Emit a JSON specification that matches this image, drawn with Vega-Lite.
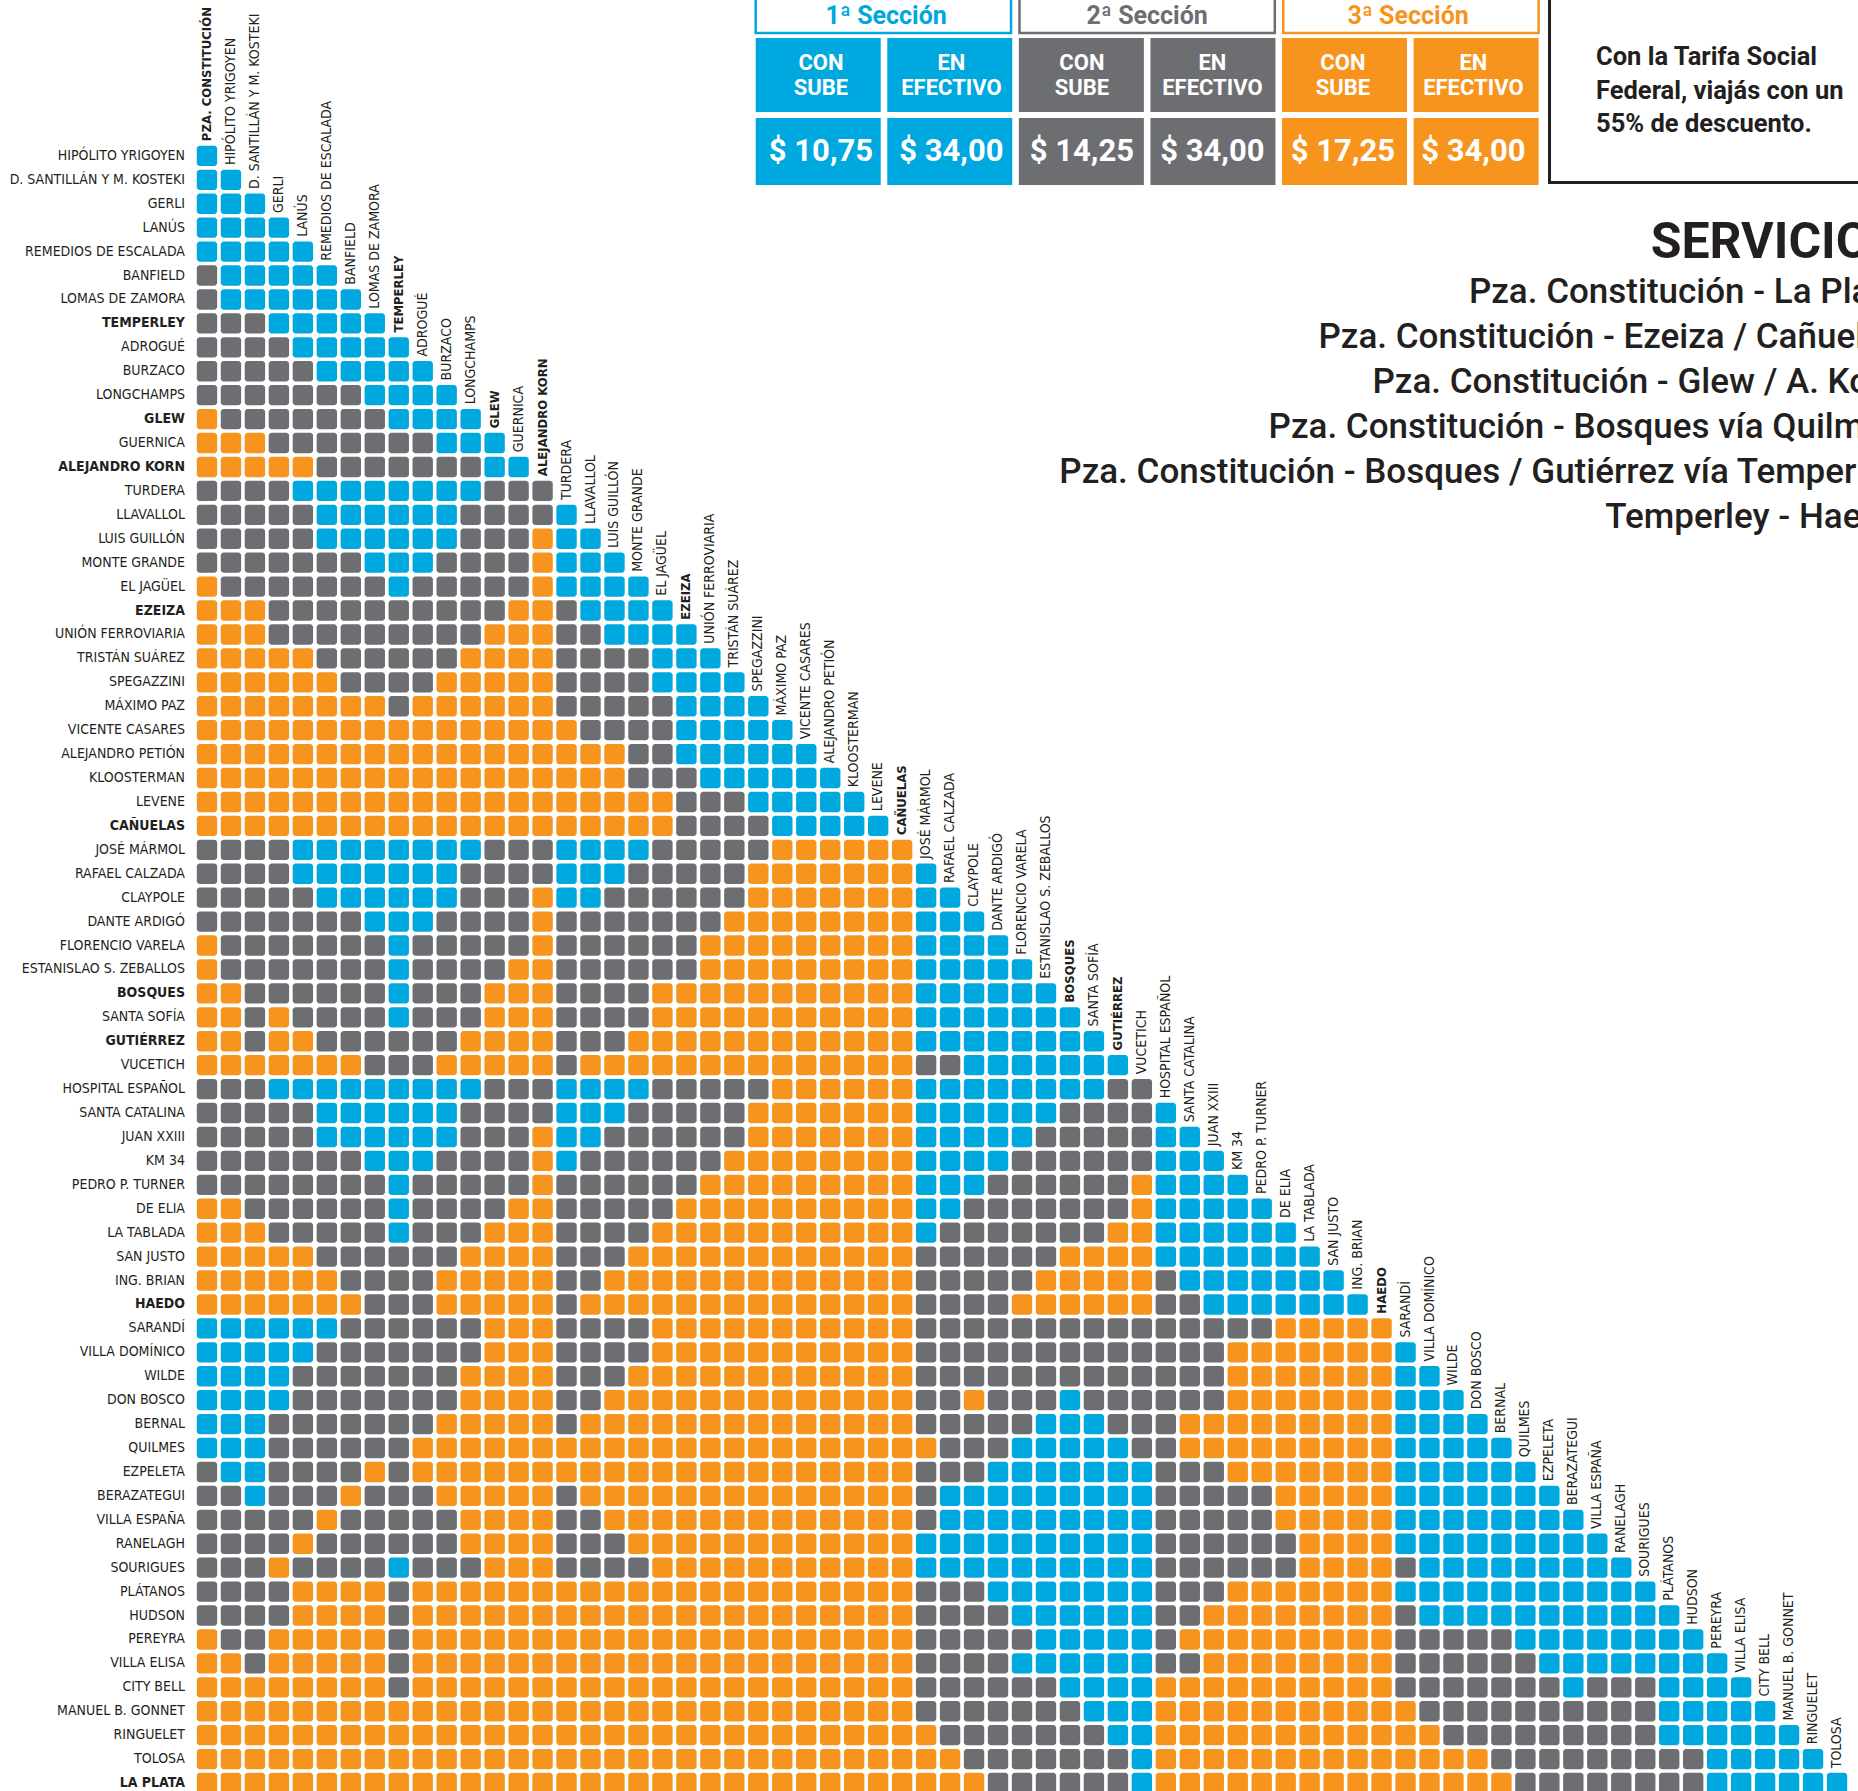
{
"$schema":"https://vega.github.io/schema/vega-lite/v6.json",
"width":1654,"height":1671,
"autosize":{"type":"none"},
"padding":{"left":195,"top":120,"right":9,"bottom":0},
"background":"#ffffff",
"config":{"view":{"stroke":null}},
"datasets":{
"stations":[{"i":0,"n":"PZA. CONSTITUCIÓN","b":1},{"i":1,"n":"HIPÓLITO YRIGOYEN","b":0},{"i":2,"n":"D. SANTILLÁN Y M. KOSTEKI","b":0},{"i":3,"n":"GERLI","b":0},{"i":4,"n":"LANÚS","b":0},{"i":5,"n":"REMEDIOS DE ESCALADA","b":0},{"i":6,"n":"BANFIELD","b":0},{"i":7,"n":"LOMAS DE ZAMORA","b":0},{"i":8,"n":"TEMPERLEY","b":1},{"i":9,"n":"ADROGUÉ","b":0},{"i":10,"n":"BURZACO","b":0},{"i":11,"n":"LONGCHAMPS","b":0},{"i":12,"n":"GLEW","b":1},{"i":13,"n":"GUERNICA","b":0},{"i":14,"n":"ALEJANDRO KORN","b":1},{"i":15,"n":"TURDERA","b":0},{"i":16,"n":"LLAVALLOL","b":0},{"i":17,"n":"LUIS GUILLÓN","b":0},{"i":18,"n":"MONTE GRANDE","b":0},{"i":19,"n":"EL JAGÜEL","b":0},{"i":20,"n":"EZEIZA","b":1},{"i":21,"n":"UNIÓN FERROVIARIA","b":0},{"i":22,"n":"TRISTÁN SUÁREZ","b":0},{"i":23,"n":"SPEGAZZINI","b":0},{"i":24,"n":"MÁXIMO PAZ","b":0},{"i":25,"n":"VICENTE CASARES","b":0},{"i":26,"n":"ALEJANDRO PETIÓN","b":0},{"i":27,"n":"KLOOSTERMAN","b":0},{"i":28,"n":"LEVENE","b":0},{"i":29,"n":"CAÑUELAS","b":1},{"i":30,"n":"JOSÉ MÁRMOL","b":0},{"i":31,"n":"RAFAEL CALZADA","b":0},{"i":32,"n":"CLAYPOLE","b":0},{"i":33,"n":"DANTE ARDIGÓ","b":0},{"i":34,"n":"FLORENCIO VARELA","b":0},{"i":35,"n":"ESTANISLAO S. ZEBALLOS","b":0},{"i":36,"n":"BOSQUES","b":1},{"i":37,"n":"SANTA SOFÍA","b":0},{"i":38,"n":"GUTIÉRREZ","b":1},{"i":39,"n":"VUCETICH","b":0},{"i":40,"n":"HOSPITAL ESPAÑOL","b":0},{"i":41,"n":"SANTA CATALINA","b":0},{"i":42,"n":"JUAN XXIII","b":0},{"i":43,"n":"KM 34","b":0},{"i":44,"n":"PEDRO P. TURNER","b":0},{"i":45,"n":"DE ELIA","b":0},{"i":46,"n":"LA TABLADA","b":0},{"i":47,"n":"SAN JUSTO","b":0},{"i":48,"n":"ING. BRIAN","b":0},{"i":49,"n":"HAEDO","b":1},{"i":50,"n":"SARANDÍ","b":0},{"i":51,"n":"VILLA DOMÍNICO","b":0},{"i":52,"n":"WILDE","b":0},{"i":53,"n":"DON BOSCO","b":0},{"i":54,"n":"BERNAL","b":0},{"i":55,"n":"QUILMES","b":0},{"i":56,"n":"EZPELETA","b":0},{"i":57,"n":"BERAZATEGUI","b":0},{"i":58,"n":"VILLA ESPAÑA","b":0},{"i":59,"n":"RANELAGH","b":0},{"i":60,"n":"SOURIGUES","b":0},{"i":61,"n":"PLÁTANOS","b":0},{"i":62,"n":"HUDSON","b":0},{"i":63,"n":"PEREYRA","b":0},{"i":64,"n":"VILLA ELISA","b":0},{"i":65,"n":"CITY BELL","b":0},{"i":66,"n":"MANUEL B. GONNET","b":0},{"i":67,"n":"RINGUELET","b":0},{"i":68,"n":"TOLOSA","b":0},{"i":69,"n":"LA PLATA","b":1}],
"fares":[{"sec":"1ª Sección","k":"1a","pay":"CON\nSUBE","price":"$ 10,75"},{"sec":"1ª Sección","k":"1b","pay":"EN\nEFECTIVO","price":"$ 34,00"},{"sec":"2ª Sección","k":"2a","pay":"CON\nSUBE","price":"$ 14,25"},{"sec":"2ª Sección","k":"2b","pay":"EN\nEFECTIVO","price":"$ 34,00"},{"sec":"3ª Sección","k":"3a","pay":"CON\nSUBE","price":"$ 17,25"},{"sec":"3ª Sección","k":"3b","pay":"EN\nEFECTIVO","price":"$ 34,00"}]
},
"layer":[
{"layer":[
{"data":{"values":"r,c,s\n1,0,1\n2,0,1\n2,1,1\n3,0,1\n3,1,1\n3,2,1\n4,0,1\n4,1,1\n4,2,1\n4,3,1\n5,0,1\n5,1,1\n5,2,1\n5,3,1\n5,4,1\n6,0,2\n6,1,1\n6,2,1\n6,3,1\n6,4,1\n6,5,1\n7,0,2\n7,1,1\n7,2,1\n7,3,1\n7,4,1\n7,5,1\n7,6,1\n8,0,2\n8,1,2\n8,2,2\n8,3,1\n8,4,1\n8,5,1\n8,6,1\n8,7,1\n9,0,2\n9,1,2\n9,2,2\n9,3,2\n9,4,1\n9,5,1\n9,6,1\n9,7,1\n9,8,1\n10,0,2\n10,1,2\n10,2,2\n10,3,2\n10,4,2\n10,5,1\n10,6,1\n10,7,1\n10,8,1\n10,9,1\n11,0,2\n11,1,2\n11,2,2\n11,3,2\n11,4,2\n11,5,2\n11,6,2\n11,7,1\n11,8,1\n11,9,1\n11,10,1\n12,0,3\n12,1,2\n12,2,2\n12,3,2\n12,4,2\n12,5,2\n12,6,2\n12,7,2\n12,8,1\n12,9,1\n12,10,1\n12,11,1\n13,0,3\n13,1,3\n13,2,3\n13,3,2\n13,4,2\n13,5,2\n13,6,2\n13,7,2\n13,8,2\n13,9,2\n13,10,1\n13,11,1\n13,12,1\n14,0,3\n14,1,3\n14,2,3\n14,3,3\n14,4,3\n14,5,2\n14,6,2\n14,7,2\n14,8,2\n14,9,2\n14,10,2\n14,11,2\n14,12,1\n14,13,1\n15,0,2\n15,1,2\n15,2,2\n15,3,2\n15,4,1\n15,5,1\n15,6,1\n15,7,1\n15,8,1\n15,9,1\n15,10,1\n15,11,1\n15,12,2\n15,13,2\n15,14,2\n16,0,2\n16,1,2\n16,2,2\n16,3,2\n16,4,2\n16,5,1\n16,6,1\n16,7,1\n16,8,1\n16,9,1\n16,10,1\n16,11,2\n16,12,2\n16,13,2\n16,14,2\n16,15,1\n17,0,2\n17,1,2\n17,2,2\n17,3,2\n17,4,2\n17,5,1\n17,6,1\n17,7,1\n17,8,1\n17,9,1\n17,10,1\n17,11,2\n17,12,2\n17,13,2\n17,14,3\n17,15,1\n17,16,1\n18,0,2\n18,1,2\n18,2,2\n18,3,2\n18,4,2\n18,5,2\n18,6,2\n18,7,1\n18,8,1\n18,9,1\n18,10,2\n18,11,2\n18,12,2\n18,13,2\n18,14,3\n18,15,1\n18,16,1\n18,17,1\n19,0,3\n19,1,2\n19,2,2\n19,3,2\n19,4,2\n19,5,2\n19,6,2\n19,7,2\n19,8,1\n19,9,2\n19,10,2\n19,11,2\n19,12,2\n19,13,2\n19,14,3\n19,15,1\n19,16,1\n19,17,1\n19,18,1\n20,0,3\n20,1,3\n20,2,3\n20,3,2\n20,4,2\n20,5,2\n20,6,2\n20,7,2\n20,8,2\n20,9,2\n20,10,2\n20,11,2\n20,12,2\n20,13,3\n20,14,3\n20,15,2\n20,16,1\n20,17,1\n20,18,1\n20,19,1\n21,0,3\n21,1,3\n21,2,3\n21,3,2\n21,4,2\n21,5,2\n21,6,2\n21,7,2\n21,8,2\n21,9,2\n21,10,2\n21,11,2\n21,12,3\n21,13,3\n21,14,3\n21,15,2\n21,16,2\n21,17,1\n21,18,1\n21,19,1\n21,20,1\n22,0,3\n22,1,3\n22,2,3\n22,3,3\n22,4,3\n22,5,2\n22,6,2\n22,7,2\n22,8,2\n22,9,2\n22,10,2\n22,11,3\n22,12,3\n22,13,3\n22,14,3\n22,15,2\n22,16,2\n22,17,2\n22,18,2\n22,19,1\n22,20,1\n22,21,1\n23,0,3\n23,1,3\n23,2,3\n23,3,3\n23,4,3\n23,5,3\n23,6,2\n23,7,2\n23,8,2\n23,9,2\n23,10,3\n23,11,3\n23,12,3\n23,13,3\n23,14,3\n23,15,2\n23,16,2\n23,17,2\n23,18,2\n23,19,1\n23,20,1\n23,21,1\n23,22,1\n24,0,3\n24,1,3\n24,2,3\n24,3,3\n24,4,3\n24,5,3\n24,6,3\n24,7,3\n24,8,2\n24,9,3\n24,10,3\n24,11,3\n24,12,3\n24,13,3\n24,14,3\n24,15,2\n24,16,2\n24,17,2\n24,18,2\n24,19,2\n24,20,1\n24,21,1\n24,22,1\n24,23,1\n25,0,3\n25,1,3\n25,2,3\n25,3,3\n25,4,3\n25,5,3\n25,6,3\n25,7,3\n25,8,3\n25,9,3\n25,10,3\n25,11,3\n25,12,3\n25,13,3\n25,14,3\n25,15,3\n25,16,2\n25,17,2\n25,18,2\n25,19,2\n25,20,1\n25,21,1\n25,22,1\n25,23,1\n25,24,1\n26,0,3\n26,1,3\n26,2,3\n26,3,3\n26,4,3\n26,5,3\n26,6,3\n26,7,3\n26,8,3\n26,9,3\n26,10,3\n26,11,3\n26,12,3\n26,13,3\n26,14,3\n26,15,3\n26,16,3\n26,17,3\n26,18,2\n26,19,2\n26,20,1\n26,21,1\n26,22,1\n26,23,1\n26,24,1\n26,25,1\n27,0,3\n27,1,3\n27,2,3\n27,3,3\n27,4,3\n27,5,3\n27,6,3\n27,7,3\n27,8,3\n27,9,3\n27,10,3\n27,11,3\n27,12,3\n27,13,3\n27,14,3\n27,15,3\n27,16,3\n27,17,3\n27,18,2\n27,19,2\n27,20,2\n27,21,1\n27,22,1\n27,23,1\n27,24,1\n27,25,1\n27,26,1\n28,0,3\n28,1,3\n28,2,3\n28,3,3\n28,4,3\n28,5,3\n28,6,3\n28,7,3\n28,8,3\n28,9,3\n28,10,3\n28,11,3\n28,12,3\n28,13,3\n28,14,3\n28,15,3\n28,16,3\n28,17,3\n28,18,3\n28,19,3\n28,20,2\n28,21,2\n28,22,2\n28,23,1\n28,24,1\n28,25,1\n28,26,1\n28,27,1\n29,0,3\n29,1,3\n29,2,3\n29,3,3\n29,4,3\n29,5,3\n29,6,3\n29,7,3\n29,8,3\n29,9,3\n29,10,3\n29,11,3\n29,12,3\n29,13,3\n29,14,3\n29,15,3\n29,16,3\n29,17,3\n29,18,3\n29,19,3\n29,20,2\n29,21,2\n29,22,2\n29,23,2\n29,24,1\n29,25,1\n29,26,1\n29,27,1\n29,28,1\n30,0,2\n30,1,2\n30,2,2\n30,3,2\n30,4,1\n30,5,1\n30,6,1\n30,7,1\n30,8,1\n30,9,1\n30,10,1\n30,11,1\n30,12,2\n30,13,2\n30,14,2\n30,15,1\n30,16,1\n30,17,1\n30,18,1\n30,19,2\n30,20,2\n30,21,2\n30,22,2\n30,23,2\n30,24,3\n30,25,3\n30,26,3\n30,27,3\n30,28,3\n30,29,3\n31,0,2\n31,1,2\n31,2,2\n31,3,2\n31,4,1\n31,5,1\n31,6,1\n31,7,1\n31,8,1\n31,9,1\n31,10,1\n31,11,2\n31,12,2\n31,13,2\n31,14,2\n31,15,1\n31,16,1\n31,17,1\n31,18,2\n31,19,2\n31,20,2\n31,21,2\n31,22,2\n31,23,3\n31,24,3\n31,25,3\n31,26,3\n31,27,3\n31,28,3\n31,29,3\n31,30,1\n32,0,2\n32,1,2\n32,2,2\n32,3,2\n32,4,2\n32,5,1\n32,6,1\n32,7,1\n32,8,1\n32,9,1\n32,10,1\n32,11,2\n32,12,2\n32,13,2\n32,14,3\n32,15,1\n32,16,1\n32,17,2\n32,18,2\n32,19,2\n32,20,2\n32,21,2\n32,22,2\n32,23,3\n32,24,3\n32,25,3\n32,26,3\n32,27,3\n32,28,3\n32,29,3\n32,30,1\n32,31,1\n33,0,2\n33,1,2\n33,2,2\n33,3,2\n33,4,2\n33,5,2\n33,6,2\n33,7,1\n33,8,1\n33,9,1\n33,10,2\n33,11,2\n33,12,2\n33,13,2\n33,14,3\n33,15,2\n33,16,2\n33,17,2\n33,18,2\n33,19,2\n33,20,2\n33,21,2\n33,22,3\n33,23,3\n33,24,3\n33,25,3\n33,26,3\n33,27,3\n33,28,3\n33,29,3\n33,30,1\n33,31,1\n33,32,1\n34,0,3\n34,1,2\n34,2,2\n34,3,2\n34,4,2\n34,5,2\n34,6,2\n34,7,2\n34,8,1\n34,9,2\n34,10,2\n34,11,2\n34,12,2\n34,13,2\n34,14,3\n34,15,2\n34,16,2\n34,17,2\n34,18,2\n34,19,2\n34,20,2\n34,21,3\n34,22,3\n34,23,3\n34,24,3\n34,25,3\n34,26,3\n34,27,3\n34,28,3\n34,29,3\n34,30,1\n34,31,1\n34,32,1\n34,33,1\n35,0,3\n35,1,2\n35,2,2\n35,3,2\n35,4,2\n35,5,2\n35,6,2\n35,7,2\n35,8,1\n35,9,2\n35,10,2\n35,11,2\n35,12,2\n35,13,3\n35,14,3\n35,15,2\n35,16,2\n35,17,2\n35,18,2\n35,19,2\n35,20,2\n35,21,3\n35,22,3\n35,23,3\n35,24,3\n35,25,3\n35,26,3\n35,27,3\n35,28,3\n35,29,3\n35,30,1\n35,31,1\n35,32,1\n35,33,1\n35,34,1\n36,0,3\n36,1,3\n36,2,2\n36,3,2\n36,4,2\n36,5,2\n36,6,2\n36,7,2\n36,8,1\n36,9,2\n36,10,2\n36,11,2\n36,12,3\n36,13,3\n36,14,3\n36,15,2\n36,16,2\n36,17,2\n36,18,2\n36,19,3\n36,20,3\n36,21,3\n36,22,3\n36,23,3\n36,24,3\n36,25,3\n36,26,3\n36,27,3\n36,28,3\n36,29,3\n36,30,1\n36,31,1\n36,32,1\n36,33,1\n36,34,1\n36,35,1\n37,0,3\n37,1,3\n37,2,2\n37,3,3\n37,4,2\n37,5,2\n37,6,2\n37,7,2\n37,8,1\n37,9,2\n37,10,2\n37,11,2\n37,12,3\n37,13,3\n37,14,3\n37,15,2\n37,16,2\n37,17,2\n37,18,2\n37,19,3\n37,20,3\n37,21,3\n37,22,3\n37,23,3\n37,24,3\n37,25,3\n37,26,3\n37,27,3\n37,28,3\n37,29,3\n37,30,1\n37,31,1\n37,32,1\n37,33,1\n37,34,1\n37,35,1\n37,36,1\n38,0,3\n38,1,3\n38,2,2\n38,3,3\n38,4,3\n38,5,2\n38,6,2\n38,7,2\n38,8,2\n38,9,2\n38,10,2\n38,11,3\n38,12,3\n38,13,3\n38,14,3\n38,15,2\n38,16,2\n38,17,2\n38,18,3\n38,19,3\n38,20,3\n38,21,3\n38,22,3\n38,23,3\n38,24,3\n38,25,3\n38,26,3\n38,27,3\n38,28,3\n38,29,3\n38,30,1\n38,31,1\n38,32,1\n38,33,1\n38,34,1\n38,35,1\n38,36,1\n38,37,1\n39,0,3\n39,1,3\n39,2,3\n39,3,3\n39,4,3\n39,5,3\n39,6,3\n39,7,2\n39,8,2\n39,9,2\n39,10,3\n39,11,3\n39,12,3\n39,13,3\n39,14,3\n39,15,2\n39,16,3\n39,17,3\n39,18,3\n39,19,3\n39,20,3\n39,21,3\n39,22,3\n39,23,3\n39,24,3\n39,25,3\n39,26,3\n39,27,3\n39,28,3\n39,29,3\n39,30,2\n39,31,2\n39,32,1\n39,33,1\n39,34,1\n39,35,1\n39,36,1\n39,37,1\n39,38,1\n40,0,2\n40,1,2\n40,2,2\n40,3,1\n40,4,1\n40,5,1\n40,6,1\n40,7,1\n40,8,1\n40,9,1\n40,10,1\n40,11,1\n40,12,2\n40,13,2\n40,14,2\n40,15,1\n40,16,1\n40,17,1\n40,18,1\n40,19,2\n40,20,2\n40,21,2\n40,22,2\n40,23,2\n40,24,3\n40,25,3\n40,26,3\n40,27,3\n40,28,3\n40,29,3\n40,30,1\n40,31,1\n40,32,1\n40,33,1\n40,34,1\n40,35,1\n40,36,1\n40,37,1\n40,38,2\n40,39,2\n41,0,2\n41,1,2\n41,2,2\n41,3,2\n41,4,2\n41,5,1\n41,6,1\n41,7,1\n41,8,1\n41,9,1\n41,10,1\n41,11,2\n41,12,2\n41,13,2\n41,14,2\n41,15,1\n41,16,1\n41,17,1\n41,18,2\n41,19,2\n41,20,2\n41,21,2\n41,22,2\n41,23,3\n41,24,3\n41,25,3\n41,26,3\n41,27,3\n41,28,3\n41,29,3\n41,30,1\n41,31,1\n41,32,1\n41,33,1\n41,34,1\n41,35,1\n41,36,2\n41,37,2\n41,38,2\n41,39,2\n41,40,1\n42,0,2\n42,1,2\n42,2,2\n42,3,2\n42,4,2\n42,5,1\n42,6,1\n42,7,1\n42,8,1\n42,9,1\n42,10,1\n42,11,2\n42,12,2\n42,13,2\n42,14,3\n42,15,1\n42,16,1\n42,17,2\n42,18,2\n42,19,2\n42,20,2\n42,21,2\n42,22,2\n42,23,3\n42,24,3\n42,25,3\n42,26,3\n42,27,3\n42,28,3\n42,29,3\n42,30,1\n42,31,1\n42,32,1\n42,33,1\n42,34,1\n42,35,2\n42,36,2\n42,37,2\n42,38,2\n42,39,2\n42,40,1\n42,41,1\n43,0,2\n43,1,2\n43,2,2\n43,3,2\n43,4,2\n43,5,2\n43,6,2\n43,7,1\n43,8,1\n43,9,1\n43,10,2\n43,11,2\n43,12,2\n43,13,2\n43,14,3\n43,15,1\n43,16,2\n43,17,2\n43,18,2\n43,19,2\n43,20,2\n43,21,2\n43,22,3\n43,23,3\n43,24,3\n43,25,3\n43,26,3\n43,27,3\n43,28,3\n43,29,3\n43,30,1\n43,31,1\n43,32,1\n43,33,1\n43,34,2\n43,35,2\n43,36,2\n43,37,2\n43,38,2\n43,39,2\n43,40,1\n43,41,1\n43,42,1\n44,0,2\n44,1,2\n44,2,2\n44,3,2\n44,4,2\n44,5,2\n44,6,2\n44,7,2\n44,8,1\n44,9,2\n44,10,2\n44,11,2\n44,12,2\n44,13,2\n44,14,3\n44,15,2\n44,16,2\n44,17,2\n44,18,2\n44,19,2\n44,20,2\n44,21,3\n44,22,3\n44,23,3\n44,24,3\n44,25,3\n44,26,3\n44,27,3\n44,28,3\n44,29,3\n44,30,1\n44,31,1\n44,32,1\n44,33,2\n44,34,2\n44,35,2\n44,36,2\n44,37,2\n44,38,2\n44,39,3\n44,40,1\n44,41,1\n44,42,1\n44,43,1\n45,0,3\n45,1,3\n45,2,2\n45,3,2\n45,4,2\n45,5,2\n45,6,2\n45,7,2\n45,8,1\n45,9,2\n45,10,2\n45,11,2\n45,12,2\n45,13,3\n45,14,3\n45,15,2\n45,16,2\n45,17,2\n45,18,2\n45,19,2\n45,20,3\n45,21,3\n45,22,3\n45,23,3\n45,24,3\n45,25,3\n45,26,3\n45,27,3\n45,28,3\n45,29,3\n45,30,1\n45,31,1\n45,32,2\n45,33,2\n45,34,2\n45,35,2\n45,36,2\n45,37,2\n45,38,2\n45,39,3\n45,40,1\n45,41,1\n45,42,1\n45,43,1\n45,44,1\n46,0,3\n46,1,3\n46,2,3\n46,3,2\n46,4,2\n46,5,2\n46,6,2\n46,7,2\n46,8,1\n46,9,2\n46,10,2\n46,11,2\n46,12,3\n46,13,3\n46,14,3\n46,15,2\n46,16,2\n46,17,2\n46,18,2\n46,19,3\n46,20,3\n46,21,3\n46,22,3\n46,23,3\n46,24,3\n46,25,3\n46,26,3\n46,27,3\n46,28,3\n46,29,3\n46,30,1\n46,31,2\n46,32,2\n46,33,2\n46,34,2\n46,35,2\n46,36,2\n46,37,2\n46,38,3\n46,39,3\n46,40,1\n46,41,1\n46,42,1\n46,43,1\n46,44,1\n46,45,1\n47,0,3\n47,1,3\n47,2,3\n47,3,3\n47,4,3\n47,5,2\n47,6,2\n47,7,2\n47,8,2\n47,9,2\n47,10,2\n47,11,3\n47,12,3\n47,13,3\n47,14,3\n47,15,2\n47,16,2\n47,17,2\n47,18,3\n47,19,3\n47,20,3\n47,21,3\n47,22,3\n47,23,3\n47,24,3\n47,25,3\n47,26,3\n47,27,3\n47,28,3\n47,29,3\n47,30,2\n47,31,2\n47,32,2\n47,33,2\n47,34,2\n47,35,2\n47,36,3\n47,37,3\n47,38,3\n47,39,3\n47,40,1\n47,41,1\n47,42,1\n47,43,1\n47,44,1\n47,45,1\n47,46,1\n48,0,3\n48,1,3\n48,2,3\n48,3,3\n48,4,3\n48,5,3\n48,6,2\n48,7,2\n48,8,2\n48,9,2\n48,10,3\n48,11,3\n48,12,3\n48,13,3\n48,14,3\n48,15,2\n48,16,2\n48,17,3\n48,18,3\n48,19,3\n48,20,3\n48,21,3\n48,22,3\n48,23,3\n48,24,3\n48,25,3\n48,26,3\n48,27,3\n48,28,3\n48,29,3\n48,30,2\n48,31,2\n48,32,2\n48,33,2\n48,34,2\n48,35,3\n48,36,3\n48,37,3\n48,38,3\n48,39,3\n48,40,2\n48,41,1\n48,42,1\n48,43,1\n48,44,1\n48,45,1\n48,46,1\n48,47,1\n49,0,3\n49,1,3\n49,2,3\n49,3,3\n49,4,3\n49,5,3\n49,6,3\n49,7,2\n49,8,2\n49,9,2\n49,10,3\n49,11,3\n49,12,3\n49,13,3\n49,14,3\n49,15,2\n49,16,3\n49,17,3\n49,18,3\n49,19,3\n49,20,3\n49,21,3\n49,22,3\n49,23,3\n49,24,3\n49,25,3\n49,26,3\n49,27,3\n49,28,3\n49,29,3\n49,30,2\n49,31,2\n49,32,2\n49,33,2\n49,34,3\n49,35,3\n49,36,3\n49,37,3\n49,38,3\n49,39,3\n49,40,2\n49,41,2\n49,42,1\n49,43,1\n49,44,1\n49,45,1\n49,46,1\n49,47,1\n49,48,1\n50,0,1\n50,1,1\n50,2,1\n50,3,1\n50,4,1\n50,5,1\n50,6,2\n50,7,2\n50,8,2\n50,9,2\n50,10,2\n50,11,2\n50,12,3\n50,13,3\n50,14,3\n50,15,2\n50,16,2\n50,17,2\n50,18,2\n50,19,3\n50,20,3\n50,21,3\n50,22,3\n50,23,3\n50,24,3\n50,25,3\n50,26,3\n50,27,3\n50,28,3\n50,29,3\n50,30,2\n50,31,2\n50,32,2\n50,33,2\n50,34,2\n50,35,2\n50,36,2\n50,37,2\n50,38,2\n50,39,2\n50,40,2\n50,41,2\n50,42,2\n50,43,2\n50,44,2\n50,45,3\n50,46,3\n50,47,3\n50,48,3\n50,49,3\n51,0,1\n51,1,1\n51,2,1\n51,3,1\n51,4,1\n51,5,2\n51,6,2\n51,7,2\n51,8,2\n51,9,2\n51,10,2\n51,11,2\n51,12,3\n51,13,3\n51,14,3\n51,15,2\n51,16,2\n51,17,2\n51,18,2\n51,19,3\n51,20,3\n51,21,3\n51,22,3\n51,23,3\n51,24,3\n51,25,3\n51,26,3\n51,27,3\n51,28,3\n51,29,3\n51,30,2\n51,31,2\n51,32,2\n51,33,2\n51,34,2\n51,35,2\n51,36,2\n51,37,2\n51,38,2\n51,39,2\n51,40,2\n51,41,2\n51,42,2\n51,43,3\n51,44,3\n51,45,3\n51,46,3\n51,47,3\n51,48,3\n51,49,3\n51,50,1\n52,0,1\n52,1,1\n52,2,1\n52,3,1\n52,4,2\n52,5,2\n52,6,2\n52,7,2\n52,8,2\n52,9,2\n52,10,2\n52,11,3\n52,12,3\n52,13,3\n52,14,3\n52,15,2\n52,16,2\n52,17,2\n52,18,3\n52,19,3\n52,20,3\n52,21,3\n52,22,3\n52,23,3\n52,24,3\n52,25,3\n52,26,3\n52,27,3\n52,28,3\n52,29,3\n52,30,2\n52,31,2\n52,32,2\n52,33,2\n52,34,2\n52,35,2\n52,36,2\n52,37,2\n52,38,2\n52,39,2\n52,40,2\n52,41,2\n52,42,2\n52,43,3\n52,44,3\n52,45,3\n52,46,3\n52,47,3\n52,48,3\n52,49,3\n52,50,1\n52,51,1\n53,0,1\n53,1,1\n53,2,1\n53,3,1\n53,4,2\n53,5,2\n53,6,2\n53,7,2\n53,8,2\n53,9,2\n53,10,2\n53,11,3\n53,12,3\n53,13,3\n53,14,3\n53,15,2\n53,16,2\n53,17,3\n53,18,3\n53,19,3\n53,20,3\n53,21,3\n53,22,3\n53,23,3\n53,24,3\n53,25,3\n53,26,3\n53,27,3\n53,28,3\n53,29,3\n53,30,2\n53,31,2\n53,32,3\n53,33,2\n53,34,2\n53,35,2\n53,36,1\n53,37,2\n53,38,2\n53,39,2\n53,40,2\n53,41,2\n53,42,2\n53,43,3\n53,44,3\n53,45,3\n53,46,3\n53,47,3\n53,48,3\n53,49,3\n53,50,1\n53,51,1\n53,52,1\n54,0,1\n54,1,1\n54,2,1\n54,3,2\n54,4,2\n54,5,2\n54,6,2\n54,7,2\n54,8,2\n54,9,2\n54,10,3\n54,11,3\n54,12,3\n54,13,3\n54,14,3\n54,15,2\n54,16,3\n54,17,3\n54,18,3\n54,19,3\n54,20,3\n54,21,3\n54,22,3\n54,23,3\n54,24,3\n54,25,3\n54,26,3\n54,27,3\n54,28,3\n54,29,3\n54,30,2\n54,31,2\n54,32,2\n54,33,2\n54,34,2\n54,35,1\n54,36,1\n54,37,1\n54,38,2\n54,39,2\n54,40,2\n54,41,3\n54,42,3\n54,43,3\n54,44,3\n54,45,3\n54,46,3\n54,47,3\n54,48,3\n54,49,3\n54,50,1\n54,51,1\n54,52,1\n54,53,1\n55,0,1\n55,1,1\n55,2,1\n55,3,2\n55,4,2\n55,5,2\n55,6,2\n55,7,2\n55,8,2\n55,9,3\n55,10,3\n55,11,3\n55,12,3\n55,13,3\n55,14,3\n55,15,3\n55,16,3\n55,17,3\n55,18,3\n55,19,3\n55,20,3\n55,21,3\n55,22,3\n55,23,3\n55,24,3\n55,25,3\n55,26,3\n55,27,3\n55,28,3\n55,29,3\n55,30,3\n55,31,2\n55,32,2\n55,33,2\n55,34,1\n55,35,1\n55,36,1\n55,37,1\n55,38,1\n55,39,2\n55,40,2\n55,41,3\n55,42,3\n55,43,3\n55,44,3\n55,45,3\n55,46,3\n55,47,3\n55,48,3\n55,49,3\n55,50,1\n55,51,1\n55,52,1\n55,53,1\n55,54,1\n56,0,2\n56,1,1\n56,2,1\n56,3,2\n56,4,2\n56,5,2\n56,6,2\n56,7,3\n56,8,2\n56,9,3\n56,10,3\n56,11,3\n56,12,3\n56,13,3\n56,14,3\n56,15,3\n56,16,3\n56,17,3\n56,18,3\n56,19,3\n56,20,3\n56,21,3\n56,22,3\n56,23,3\n56,24,3\n56,25,3\n56,26,3\n56,27,3\n56,28,3\n56,29,3\n56,30,2\n56,31,2\n56,32,2\n56,33,1\n56,34,1\n56,35,1\n56,36,1\n56,37,1\n56,38,1\n56,39,1\n56,40,2\n56,41,2\n56,42,2\n56,43,3\n56,44,3\n56,45,3\n56,46,3\n56,47,3\n56,48,3\n56,49,3\n56,50,1\n56,51,1\n56,52,1\n56,53,1\n56,54,1\n56,55,1\n57,0,2\n57,1,2\n57,2,1\n57,3,2\n57,4,2\n57,5,2\n57,6,3\n57,7,2\n57,8,2\n57,9,2\n57,10,3\n57,11,3\n57,12,3\n57,13,3\n57,14,3\n57,15,2\n57,16,3\n57,17,3\n57,18,3\n57,19,3\n57,20,3\n57,21,3\n57,22,3\n57,23,3\n57,24,3\n57,25,3\n57,26,3\n57,27,3\n57,28,3\n57,29,3\n57,30,2\n57,31,1\n57,32,1\n57,33,1\n57,34,1\n57,35,1\n57,36,1\n57,37,1\n57,38,1\n57,39,1\n57,40,2\n57,41,2\n57,42,2\n57,43,2\n57,44,2\n57,45,3\n57,46,3\n57,47,3\n57,48,3\n57,49,3\n57,50,1\n57,51,1\n57,52,1\n57,53,1\n57,54,1\n57,55,1\n57,56,1\n58,0,2\n58,1,2\n58,2,2\n58,3,2\n58,4,2\n58,5,3\n58,6,2\n58,7,2\n58,8,2\n58,9,2\n58,10,2\n58,11,3\n58,12,3\n58,13,3\n58,14,3\n58,15,2\n58,16,2\n58,17,3\n58,18,3\n58,19,3\n58,20,3\n58,21,3\n58,22,3\n58,23,3\n58,24,3\n58,25,3\n58,26,3\n58,27,3\n58,28,3\n58,29,3\n58,30,2\n58,31,1\n58,32,1\n58,33,1\n58,34,1\n58,35,1\n58,36,1\n58,37,1\n58,38,1\n58,39,1\n58,40,2\n58,41,2\n58,42,2\n58,43,2\n58,44,2\n58,45,3\n58,46,3\n58,47,3\n58,48,3\n58,49,3\n58,50,1\n58,51,1\n58,52,1\n58,53,1\n58,54,1\n58,55,1\n58,56,1\n58,57,1\n59,0,2\n59,1,2\n59,2,2\n59,3,2\n59,4,3\n59,5,2\n59,6,2\n59,7,2\n59,8,2\n59,9,2\n59,10,2\n59,11,3\n59,12,3\n59,13,3\n59,14,3\n59,15,2\n59,16,2\n59,17,2\n59,18,3\n59,19,3\n59,20,3\n59,21,3\n59,22,3\n59,23,3\n59,24,3\n59,25,3\n59,26,3\n59,27,3\n59,28,3\n59,29,3\n59,30,1\n59,31,1\n59,32,1\n59,33,1\n59,34,1\n59,35,1\n59,36,1\n59,37,1\n59,38,1\n59,39,1\n59,40,2\n59,41,2\n59,42,2\n59,43,2\n59,44,2\n59,45,2\n59,46,3\n59,47,3\n59,48,3\n59,49,3\n59,50,1\n59,51,1\n59,52,1\n59,53,1\n59,54,1\n59,55,1\n59,56,1\n59,57,1\n59,58,1\n60,0,2\n60,1,2\n60,2,2\n60,3,3\n60,4,2\n60,5,2\n60,6,2\n60,7,2\n60,8,1\n60,9,2\n60,10,2\n60,11,2\n60,12,3\n60,13,3\n60,14,3\n60,15,2\n60,16,2\n60,17,2\n60,18,2\n60,19,3\n60,20,3\n60,21,3\n60,22,3\n60,23,3\n60,24,3\n60,25,3\n60,26,3\n60,27,3\n60,28,3\n60,29,3\n60,30,1\n60,31,1\n60,32,1\n60,33,1\n60,34,1\n60,35,1\n60,36,1\n60,37,1\n60,38,1\n60,39,1\n60,40,2\n60,41,2\n60,42,2\n60,43,2\n60,44,2\n60,45,2\n60,46,3\n60,47,3\n60,48,3\n60,49,3\n60,50,2\n60,51,1\n60,52,1\n60,53,1\n60,54,1\n60,55,1\n60,56,1\n60,57,1\n60,58,1\n60,59,1\n61,0,2\n61,1,2\n61,2,2\n61,3,2\n61,4,3\n61,5,3\n61,6,3\n61,7,3\n61,8,2\n61,9,3\n61,10,3\n61,11,3\n61,12,3\n61,13,3\n61,14,3\n61,15,3\n61,16,3\n61,17,3\n61,18,3\n61,19,3\n61,20,3\n61,21,3\n61,22,3\n61,23,3\n61,24,3\n61,25,3\n61,26,3\n61,27,3\n61,28,3\n61,29,3\n61,30,2\n61,31,2\n61,32,2\n61,33,1\n61,34,1\n61,35,1\n61,36,1\n61,37,1\n61,38,1\n61,39,1\n61,40,2\n61,41,2\n61,42,2\n61,43,3\n61,44,3\n61,45,3\n61,46,3\n61,47,3\n61,48,3\n61,49,3\n61,50,1\n61,51,1\n61,52,1\n61,53,1\n61,54,1\n61,55,1\n61,56,1\n61,57,1\n61,58,1\n61,59,1\n61,60,1\n62,0,2\n62,1,2\n62,2,2\n62,3,2\n62,4,3\n62,5,3\n62,6,3\n62,7,3\n62,8,2\n62,9,3\n62,10,3\n62,11,3\n62,12,3\n62,13,3\n62,14,3\n62,15,3\n62,16,3\n62,17,3\n62,18,3\n62,19,3\n62,20,3\n62,21,3\n62,22,3\n62,23,3\n62,24,3\n62,25,3\n62,26,3\n62,27,3\n62,28,3\n62,29,3\n62,30,2\n62,31,2\n62,32,2\n62,33,2\n62,34,1\n62,35,1\n62,36,1\n62,37,1\n62,38,1\n62,39,1\n62,40,2\n62,41,2\n62,42,3\n62,43,3\n62,44,3\n62,45,3\n62,46,3\n62,47,3\n62,48,3\n62,49,3\n62,50,2\n62,51,1\n62,52,1\n62,53,1\n62,54,1\n62,55,1\n62,56,1\n62,57,1\n62,58,1\n62,59,1\n62,60,1\n62,61,1\n63,0,3\n63,1,2\n63,2,2\n63,3,3\n63,4,3\n63,5,3\n63,6,3\n63,7,3\n63,8,2\n63,9,3\n63,10,3\n63,11,3\n63,12,3\n63,13,3\n63,14,3\n63,15,3\n63,16,3\n63,17,3\n63,18,3\n63,19,3\n63,20,3\n63,21,3\n63,22,3\n63,23,3\n63,24,3\n63,25,3\n63,26,3\n63,27,3\n63,28,3\n63,29,3\n63,30,2\n63,31,2\n63,32,2\n63,33,2\n63,34,2\n63,35,1\n63,36,1\n63,37,1\n63,38,1\n63,39,1\n63,40,2\n63,41,3\n63,42,3\n63,43,3\n63,44,3\n63,45,3\n63,46,3\n63,47,3\n63,48,3\n63,49,3\n63,50,2\n63,51,2\n63,52,2\n63,53,2\n63,54,2\n63,55,1\n63,56,1\n63,57,1\n63,58,1\n63,59,1\n63,60,1\n63,61,1\n63,62,1\n64,0,3\n64,1,3\n64,2,2\n64,3,3\n64,4,3\n64,5,3\n64,6,3\n64,7,3\n64,8,2\n64,9,3\n64,10,3\n64,11,3\n64,12,3\n64,13,3\n64,14,3\n64,15,3\n64,16,3\n64,17,3\n64,18,3\n64,19,3\n64,20,3\n64,21,3\n64,22,3\n64,23,3\n64,24,3\n64,25,3\n64,26,3\n64,27,3\n64,28,3\n64,29,3\n64,30,2\n64,31,2\n64,32,2\n64,33,2\n64,34,1\n64,35,1\n64,36,1\n64,37,1\n64,38,1\n64,39,1\n64,40,2\n64,41,2\n64,42,3\n64,43,3\n64,44,3\n64,45,3\n64,46,3\n64,47,3\n64,48,3\n64,49,3\n64,50,2\n64,51,2\n64,52,2\n64,53,2\n64,54,2\n64,55,2\n64,56,1\n64,57,1\n64,58,1\n64,59,1\n64,60,1\n64,61,1\n64,62,1\n64,63,1\n65,0,3\n65,1,3\n65,2,3\n65,3,3\n65,4,3\n65,5,3\n65,6,3\n65,7,3\n65,8,2\n65,9,3\n65,10,3\n65,11,3\n65,12,3\n65,13,3\n65,14,3\n65,15,3\n65,16,3\n65,17,3\n65,18,3\n65,19,3\n65,20,3\n65,21,3\n65,22,3\n65,23,3\n65,24,3\n65,25,3\n65,26,3\n65,27,3\n65,28,3\n65,29,3\n65,30,2\n65,31,2\n65,32,2\n65,33,2\n65,34,2\n65,35,2\n65,36,1\n65,37,1\n65,38,1\n65,39,1\n65,40,3\n65,41,3\n65,42,3\n65,43,3\n65,44,3\n65,45,3\n65,46,3\n65,47,3\n65,48,3\n65,49,3\n65,50,2\n65,51,2\n65,52,2\n65,53,2\n65,54,2\n65,55,2\n65,56,2\n65,57,1\n65,58,2\n65,59,2\n65,60,2\n65,61,1\n65,62,1\n65,63,1\n65,64,1\n66,0,3\n66,1,3\n66,2,3\n66,3,3\n66,4,3\n66,5,3\n66,6,3\n66,7,3\n66,8,3\n66,9,3\n66,10,3\n66,11,3\n66,12,3\n66,13,3\n66,14,3\n66,15,3\n66,16,3\n66,17,3\n66,18,3\n66,19,3\n66,20,3\n66,21,3\n66,22,3\n66,23,3\n66,24,3\n66,25,3\n66,26,3\n66,27,3\n66,28,3\n66,29,3\n66,30,2\n66,31,2\n66,32,2\n66,33,2\n66,34,2\n66,35,2\n66,36,2\n66,37,1\n66,38,1\n66,39,1\n66,40,3\n66,41,3\n66,42,3\n66,43,3\n66,44,3\n66,45,3\n66,46,3\n66,47,3\n66,48,3\n66,49,3\n66,50,3\n66,51,2\n66,52,2\n66,53,2\n66,54,2\n66,55,2\n66,56,2\n66,57,2\n66,58,2\n66,59,2\n66,60,2\n66,61,1\n66,62,1\n66,63,1\n66,64,1\n66,65,1\n67,0,3\n67,1,3\n67,2,3\n67,3,3\n67,4,3\n67,5,3\n67,6,3\n67,7,3\n67,8,3\n67,9,3\n67,10,3\n67,11,3\n67,12,3\n67,13,3\n67,14,3\n67,15,3\n67,16,3\n67,17,3\n67,18,3\n67,19,3\n67,20,3\n67,21,3\n67,22,3\n67,23,3\n67,24,3\n67,25,3\n67,26,3\n67,27,3\n67,28,3\n67,29,3\n67,30,3\n67,31,2\n67,32,2\n67,33,2\n67,34,2\n67,35,2\n67,36,2\n67,37,2\n67,38,1\n67,39,1\n67,40,3\n67,41,3\n67,42,3\n67,43,3\n67,44,3\n67,45,3\n67,46,3\n67,47,3\n67,48,3\n67,49,3\n67,50,3\n67,51,3\n67,52,2\n67,53,2\n67,54,2\n67,55,2\n67,56,2\n67,57,2\n67,58,2\n67,59,2\n67,60,2\n67,61,1\n67,62,1\n67,63,1\n67,64,1\n67,65,1\n67,66,1\n68,0,3\n68,1,3\n68,2,3\n68,3,3\n68,4,3\n68,5,3\n68,6,3\n68,7,3\n68,8,3\n68,9,3\n68,10,3\n68,11,3\n68,12,3\n68,13,3\n68,14,3\n68,15,3\n68,16,3\n68,17,3\n68,18,3\n68,19,3\n68,20,3\n68,21,3\n68,22,3\n68,23,3\n68,24,3\n68,25,3\n68,26,3\n68,27,3\n68,28,3\n68,29,3\n68,30,3\n68,31,3\n68,32,2\n68,33,2\n68,34,2\n68,35,2\n68,36,2\n68,37,2\n68,38,2\n68,39,1\n68,40,3\n68,41,3\n68,42,3\n68,43,3\n68,44,3\n68,45,3\n68,46,3\n68,47,3\n68,48,3\n68,49,3\n68,50,3\n68,51,3\n68,52,3\n68,53,3\n68,54,2\n68,55,2\n68,56,2\n68,57,2\n68,58,2\n68,59,2\n68,60,2\n68,61,2\n68,62,2\n68,63,1\n68,64,1\n68,65,1\n68,66,1\n68,67,1\n69,0,3\n69,1,3\n69,2,3\n69,3,3\n69,4,3\n69,5,3\n69,6,3\n69,7,3\n69,8,3\n69,9,3\n69,10,3\n69,11,3\n69,12,3\n69,13,3\n69,14,3\n69,15,3\n69,16,3\n69,17,3\n69,18,3\n69,19,3\n69,20,3\n69,21,3\n69,22,3\n69,23,3\n69,24,3\n69,25,3\n69,26,3\n69,27,3\n69,28,3\n69,29,3\n69,30,3\n69,31,3\n69,32,3\n69,33,2\n69,34,2\n69,35,2\n69,36,2\n69,37,2\n69,38,2\n69,39,1\n69,40,3\n69,41,3\n69,42,3\n69,43,3\n69,44,3\n69,45,3\n69,46,3\n69,47,3\n69,48,3\n69,49,3\n69,50,3\n69,51,3\n69,52,3\n69,53,3\n69,54,3\n69,55,2\n69,56,2\n69,57,2\n69,58,2\n69,59,2\n69,60,2\n69,61,2\n69,62,2\n69,63,1\n69,64,1\n69,65,1\n69,66,1\n69,67,1\n69,68,1","format":{"type":"csv","parse":{"r":"number","c":"number","s":"number"}}},
"mark":{"type":"rect","cornerRadius":3},
"encoding":{
"x":{"field":"c","type":"ordinal","scale":{"domain":[0,1,2,3,4,5,6,7,8,9,10,11,12,13,14,15,16,17,18,19,20,21,22,23,24,25,26,27,28,29,30,31,32,33,34,35,36,37,38,39,40,41,42,43,44,45,46,47,48,49,50,51,52,53,54,55,56,57,58,59,60,61,62,63,64,65,66,67,68],"paddingInner":0.15,"paddingOuter":0.075},"axis":null},
"y":{"field":"r","type":"ordinal","scale":{"domain":[0,1,2,3,4,5,6,7,8,9,10,11,12,13,14,15,16,17,18,19,20,21,22,23,24,25,26,27,28,29,30,31,32,33,34,35,36,37,38,39,40,41,42,43,44,45,46,47,48,49,50,51,52,53,54,55,56,57,58,59,60,61,62,63,64,65,66,67,68,69],"range":[0,1675],"paddingInner":0.15,"paddingOuter":0.075},"axis":null},
"color":{"field":"s","type":"nominal","scale":{"domain":[1,2,3],"range":["#00A8E0","#6D6E71","#F7941D"]},"legend":null}
}},
{"data":{"name":"stations"},"transform":[{"filter":"datum.i <= 68 && datum.b != 1"}],
"mark":{"type":"text","angle":270,"align":"left","baseline":"middle","font":"DejaVu Sans Condensed, sans-serif","fontSize":14,"color":"#231F20","dx":1},
"encoding":{"x":{"field":"i","type":"ordinal","axis":null},"y":{"field":"i","type":"ordinal","bandPosition":1,"axis":null},"text":{"field":"n"}}},
{"data":{"name":"stations"},"transform":[{"filter":"datum.i <= 68 && datum.b == 1"}],
"mark":{"type":"text","angle":270,"align":"left","baseline":"middle","font":"DejaVu Sans Condensed, sans-serif","fontSize":13,"fontWeight":"bold","color":"#231F20","dx":1},
"encoding":{"x":{"field":"i","type":"ordinal","axis":null},"y":{"field":"i","type":"ordinal","bandPosition":1,"axis":null},"text":{"field":"n"}}},
{"data":{"name":"stations"},"transform":[{"filter":"datum.i >= 1 && datum.b != 1"}],
"mark":{"type":"text","align":"right","baseline":"middle","font":"DejaVu Sans Condensed, sans-serif","fontSize":14,"color":"#231F20","dx":-22},
"encoding":{"x":{"datum":0,"type":"ordinal","axis":null},"y":{"field":"i","type":"ordinal","axis":null},"text":{"field":"n"}}},
{"data":{"name":"stations"},"transform":[{"filter":"datum.i >= 1 && datum.b == 1"}],
"mark":{"type":"text","align":"right","baseline":"middle","font":"DejaVu Sans Condensed, sans-serif","fontSize":14,"fontWeight":"bold","color":"#231F20","dx":-22},
"encoding":{"x":{"datum":0,"type":"ordinal","axis":null},"y":{"field":"i","type":"ordinal","axis":null},"text":{"field":"n"}}}
]},
{"data":{"name":"fares"},"transform":[{"aggregate":[{"op":"count","as":"n"}],"groupby":["sec"]}],
"mark":{"type":"rect","fill":"#ffffff","strokeWidth":2.5},
"encoding":{
"x":{"field":"sec","type":"nominal","scale":{"domain":["1ª Sección","2ª Sección","3ª Sección"],"range":[560.7,1343.6],"paddingInner":0.032,"paddingOuter":0},"axis":null},
"y":{"datum":"t","type":"nominal","scale":{"domain":["t"],"range":[-122,-87],"paddingInner":0,"paddingOuter":0},"axis":null},
"stroke":{"field":"sec","type":"nominal","scale":{"domain":["1ª Sección","2ª Sección","3ª Sección"],"range":["#00A8E0","#6D6E71","#F7941D"]},"legend":null}}},
{"data":{"name":"fares"},"transform":[{"aggregate":[{"op":"count","as":"n"}],"groupby":["sec"]}],
"mark":{"type":"text","font":"Roboto","fontSize":25,"fontWeight":"bold","baseline":"middle","align":"center"},
"encoding":{
"x":{"field":"sec","type":"nominal","scale":{"domain":["1ª Sección","2ª Sección","3ª Sección"],"range":[560.7,1343.6],"paddingInner":0.032,"paddingOuter":0},"axis":null},
"y":{"datum":"t","type":"nominal","scale":{"domain":["t"],"range":[-122,-87],"paddingInner":0,"paddingOuter":0},"axis":null},
"text":{"field":"sec"},
"color":{"field":"sec","type":"nominal","scale":{"domain":["1ª Sección","2ª Sección","3ª Sección"],"range":["#00A8E0","#6D6E71","#F7941D"]},"legend":null}}},
{"data":{"name":"fares"},
"mark":{"type":"rect"},
"encoding":{
"x":{"field":"k","type":"nominal","scale":{"domain":["1a","1b","2a","2b","3a","3b"],"range":[560.7,1343.6],"paddingInner":0.05,"paddingOuter":0},"axis":null},
"y":{"datum":"p","type":"nominal","scale":{"domain":["p"],"range":[-82,-8],"paddingInner":0,"paddingOuter":0},"axis":null},
"color":{"field":"sec","type":"nominal","scale":{"domain":["1ª Sección","2ª Sección","3ª Sección"],"range":["#00A8E0","#6D6E71","#F7941D"]},"legend":null}}},
{"data":{"name":"fares"},
"mark":{"type":"text","font":"Roboto","fontSize":22,"fontWeight":"bold","baseline":"middle","align":"center","lineBreak":"\n","lineHeight":25,"dy":-12.5,"color":"#ffffff"},
"encoding":{
"x":{"field":"k","type":"nominal","scale":{"domain":["1a","1b","2a","2b","3a","3b"],"range":[560.7,1343.6],"paddingInner":0.05,"paddingOuter":0},"axis":null},
"y":{"datum":"p","type":"nominal","scale":{"domain":["p"],"range":[-82,-8],"paddingInner":0,"paddingOuter":0},"axis":null},
"text":{"field":"pay"}}},
{"data":{"name":"fares"},
"mark":{"type":"rect"},
"encoding":{
"x":{"field":"k","type":"nominal","scale":{"domain":["1a","1b","2a","2b","3a","3b"],"range":[560.7,1343.6],"paddingInner":0.05,"paddingOuter":0},"axis":null},
"y":{"datum":"q","type":"nominal","scale":{"domain":["q"],"range":[-2,65],"paddingInner":0,"paddingOuter":0},"axis":null},
"color":{"field":"sec","type":"nominal","scale":{"domain":["1ª Sección","2ª Sección","3ª Sección"],"range":["#00A8E0","#6D6E71","#F7941D"]},"legend":null}}},
{"data":{"name":"fares"},
"mark":{"type":"text","font":"Roboto","fontSize":31,"fontWeight":"bold","baseline":"middle","align":"center","color":"#ffffff"},
"encoding":{
"x":{"field":"k","type":"nominal","scale":{"domain":["1a","1b","2a","2b","3a","3b"],"range":[560.7,1343.6],"paddingInner":0.05,"paddingOuter":0},"axis":null},
"y":{"datum":"q","type":"nominal","scale":{"domain":["q"],"range":[-2,65],"paddingInner":0,"paddingOuter":0},"axis":null},
"text":{"field":"price"}}},
{"data":{"values":[{"box":"tarifa social"}]},
"mark":{"type":"rect","fillOpacity":0,"stroke":"#231F20","strokeWidth":3},
"encoding":{
"x":{"datum":1549.5,"type":"quantitative","scale":{"domain":[0,1858],"range":[-195,1663],"nice":false,"zero":false},"axis":null},
"x2":{"datum":1900},
"y":{"datum":-20,"type":"quantitative","scale":{"domain":[0,1791],"range":[-120,1671],"nice":false,"zero":false},"axis":null},
"y2":{"datum":182.5}}},
{"data":{"values":[{"t":"Con la Tarifa Social\nFederal, viajás con un\n55% de descuento."}]},
"mark":{"type":"text","align":"left","baseline":"alphabetic","font":"Roboto","fontSize":25.5,"fontWeight":"bold","color":"#231F20","lineBreak":"\n","lineHeight":33.5},
"encoding":{
"x":{"datum":1596,"type":"quantitative","scale":{"domain":[0,1858],"range":[-195,1663],"nice":false,"zero":false},"axis":null},
"y":{"datum":65,"type":"quantitative","scale":{"domain":[0,1791],"range":[-120,1671],"nice":false,"zero":false},"axis":null},
"text":{"field":"t"}}},
{"data":{"values":[{"t":"SERVICIOS"}]},
"mark":{"type":"text","align":"right","baseline":"alphabetic","font":"Roboto","fontSize":50,"fontWeight":"bold","color":"#231F20"},
"encoding":{
"x":{"datum":1901,"type":"quantitative","scale":{"domain":[0,1858],"range":[-195,1663],"nice":false,"zero":false},"axis":null},
"y":{"datum":258,"type":"quantitative","scale":{"domain":[0,1791],"range":[-120,1671],"nice":false,"zero":false},"axis":null},
"text":{"field":"t"}}},
{"data":{"values":[{"l":1,"t":"Pza. Constitución - La Plata"},{"l":2,"t":"Pza. Constitución - Ezeiza / Cañuelas"},{"l":3,"t":"Pza. Constitución - Glew / A. Korn"},{"l":4,"t":"Pza. Constitución - Bosques vía Quilmes"},{"l":5,"t":"Pza. Constitución - Bosques / Gutiérrez vía Temperley"},{"l":6,"t":"Temperley - Haedo"}]},
"mark":{"type":"text","align":"right","baseline":"alphabetic","font":"Roboto","fontSize":35,"fontWeight":500,"color":"#231F20"},
"encoding":{
"x":{"datum":1901,"type":"quantitative","scale":{"domain":[0,1858],"range":[-195,1663],"nice":false,"zero":false},"axis":null},
"y":{"field":"l","type":"ordinal","scale":{"domain":[1,2,3,4,5,6],"range":[160.5,430.5],"paddingInner":0,"paddingOuter":0},"axis":null},
"text":{"field":"t"}}}
],
"resolve":{"scale":{"x":"independent","y":"independent","color":"independent","stroke":"independent"}}
}
